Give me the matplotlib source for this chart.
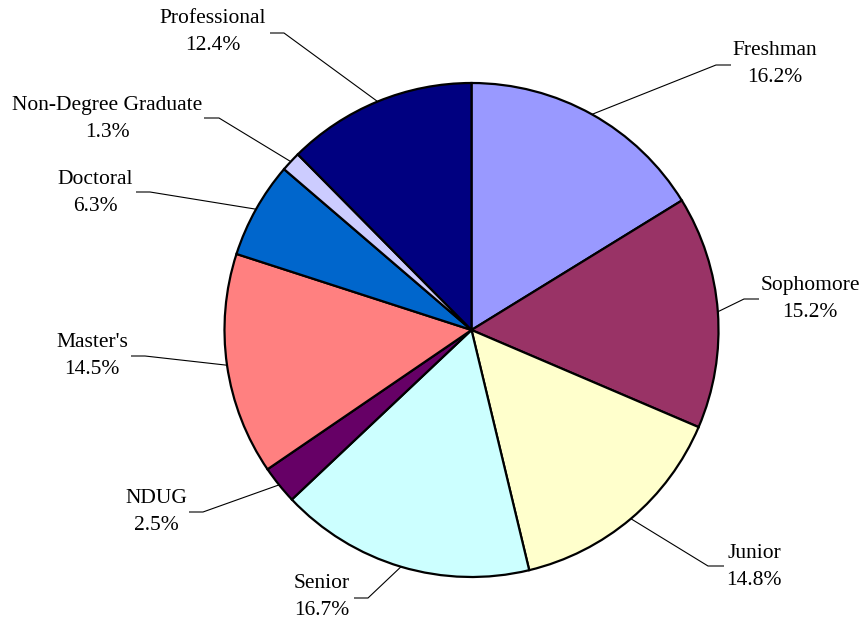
import matplotlib.pyplot as plt
import numpy as np

categories = ["Freshman", "Sophomore", "Junior", "Senior", "NDUG",
              "Master's", "Doctoral", "Non-Degree Graduate", "Professional"]
shares = [16.2, 15.2, 14.8, 16.7, 2.5, 14.5, 6.3, 1.3, 12.4]
colors = ["#9999FF", "#993366", "#FFFFCC", "#CCFFFF", "#660066",
          "#FF8080", "#0066CC", "#CCCCFF", "#000080"]

# label text centre and leader elbow (pixel positions, y down)
label_xy = [(775, 64), (810, 299), (754, 567), (322, 597), (156, 512),
            (92, 356), (95, 193), (107, 119), (213, 32)]
elbow_xy = [((731, 65), (716, 65)), ((759, 299), (744, 299)),
            ((724, 566), (708, 566)), ((354, 598), (368, 598)),
            ((189, 512), (203, 512)), ((131, 356), (145, 356)),
            ((136, 192), (150, 192)), ((204, 118), (219, 118)),
            ((270, 33), (284, 33))]

W, H = 863, 621
CX, CY, R = 471.5, 330, 247

plt.rcParams["font.family"] = ["Liberation Serif", "DejaVu Serif"]

fig = plt.figure(figsize=(W / 100, H / 100), dpi=100)
ax = fig.add_axes([0, 0, 1, 1])

wedges, _ = ax.pie(
    shares,
    colors=colors,
    startangle=90,
    counterclock=False,
    center=(CX, H - CY),
    radius=R,
    wedgeprops=dict(edgecolor="black", linewidth=1.6),
)

for w, name, val, (tx, ty), (p0, p1) in zip(wedges, categories, shares, label_xy, elbow_xy):
    mid = np.deg2rad((w.theta1 + w.theta2) / 2)
    ex = CX + R * np.cos(mid)
    ey = (H - CY) + R * np.sin(mid)
    ax.plot([p0[0], p1[0], ex], [H - p0[1], H - p1[1], ey],
            color="black", linewidth=0.8, solid_capstyle="butt")
    ax.text(tx, H - ty, f"{name}\n{val:.1f}%", ha="center", va="center",
            multialignment="center", fontsize=15.5, linespacing=1.62)

ax.set_xlim(0, W)
ax.set_ylim(0, H)
ax.set_aspect("equal")
ax.axis("off")

fig.savefig("out.png", dpi=100, facecolor="white")
